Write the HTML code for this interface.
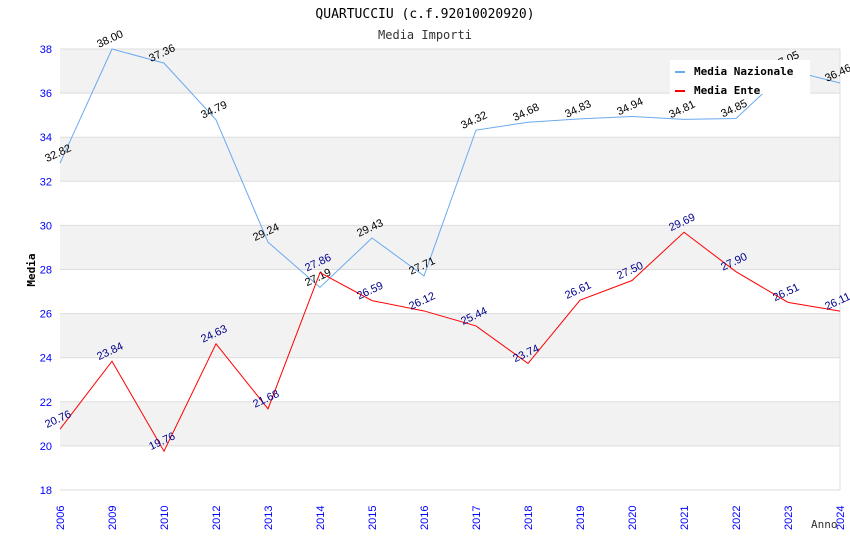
<!DOCTYPE html>
<html><head><meta charset="utf-8"><style>
body{margin:0;background:#fff}
svg text{font-family:"DejaVu Sans Mono","Liberation Mono",monospace}
svg text.s{font-family:"Liberation Sans",Arial,sans-serif}
</style></head><body>
<svg id="c" width="850" height="550" xmlns="http://www.w3.org/2000/svg">
<text x="425" y="18" text-anchor="middle" font-size="13" fill="#000">QUARTUCCIU (c.f.92010020920)</text>
<text x="425" y="39" text-anchor="middle" font-size="12" fill="#333">Media Importi</text>
<g id="grid"></g>
<g id="axes"></g>
<g id="series"></g>
<text x="35" y="270" text-anchor="middle" font-size="11" font-weight="bold" transform="rotate(-90 35 270)">Media</text>
<text x="811" y="528" font-size="11" fill="#333">Anno</text>
<g>
<rect x="670" y="60" width="140" height="34" fill="#fff"/>
<g><rect x="675" y="71" width="10" height="2" fill="#6aaaf0"/><text x="694" y="75" font-size="11" font-weight="bold">Media Nazionale</text></g>
<g><rect x="675" y="90" width="10" height="2" fill="#f00"/><text x="694" y="94" font-size="11" font-weight="bold">Media Ente</text></g>
</g>
</svg>
<script>
const years=["2006","2009","2010","2012","2013","2014","2015","2016","2017","2018","2019","2020","2021","2022","2023","2024"];
const nazionale=[32.82,38.00,37.36,34.79,29.24,27.19,29.43,27.71,34.32,34.68,34.83,34.94,34.81,34.85,37.05,36.46];
const ente=[20.76,23.84,19.76,24.63,21.68,27.86,26.59,26.12,25.44,23.74,26.61,27.50,29.69,27.90,26.51,26.11];
const yTicks=[18,20,22,24,26,28,30,32,34,36,38];
const NS="http://www.w3.org/2000/svg";
const X0=60,X1=840,Y0=490,Y1=49,ymin=18,ymax=38;
const xs=i=>X0+i*(X1-X0)/(years.length-1);
const ys=v=>Y0-(v-ymin)/(ymax-ymin)*(Y0-Y1);
function mk(t,a,p){const e=document.createElementNS(NS,t);for(const k in a)e.setAttribute(k,a[k]);p.appendChild(e);return e;}
const grid=document.getElementById('grid'),axes=document.getElementById('axes'),ser=document.getElementById('series');
for(let i=0;i<yTicks.length-1;i++){
 if(i%2===1){const r=mk('rect',{x:X0,y:ys(yTicks[i+1]),width:X1-X0,height:ys(yTicks[i])-ys(yTicks[i+1]),fill:'#f2f2f2'},grid);
 
 }
}
yTicks.forEach(v=>{
 const l=mk('line',{x1:X0,x2:X1,y1:ys(v),y2:ys(v),stroke:'#ddd'},grid);
 
 
 const t=mk('text',{x:52,y:ys(v)+4,'text-anchor':'end','font-size':11,fill:'#00f',class:'s'},axes);t.textContent=v;
 
 
});
mk('line',{x1:X1,x2:X1,y1:Y1,y2:Y0,stroke:'#ddd'},grid);
years.forEach((y,i)=>{
 const t=mk('text',{x:xs(i)+4,y:Y0+40,'font-size':11,fill:'#00f',class:'s',transform:`rotate(-90 ${xs(i)+4} ${Y0+40})`},axes);t.textContent=y;
 
 
});
function series(vals,color,lc,name){
 const p=mk('polyline',{points:vals.map((v,i)=>xs(i)+','+ys(v)).join(' '),fill:'none',stroke:color,'stroke-width':1},ser);
 
 
 vals.forEach((v,i)=>{
  const x=xs(i)-13,y=ys(v)-1;
  const t=mk('text',{x:x,y:y,'font-size':11,fill:lc,class:'s',transform:`rotate(-25 ${x} ${y})`},ser);t.textContent=v.toFixed(2);
  
  
 });
}
series(nazionale,'#6aaaf0','#000','nazionale');
series(ente,'#f00','#00008b','ente');
</script>
</body></html>
